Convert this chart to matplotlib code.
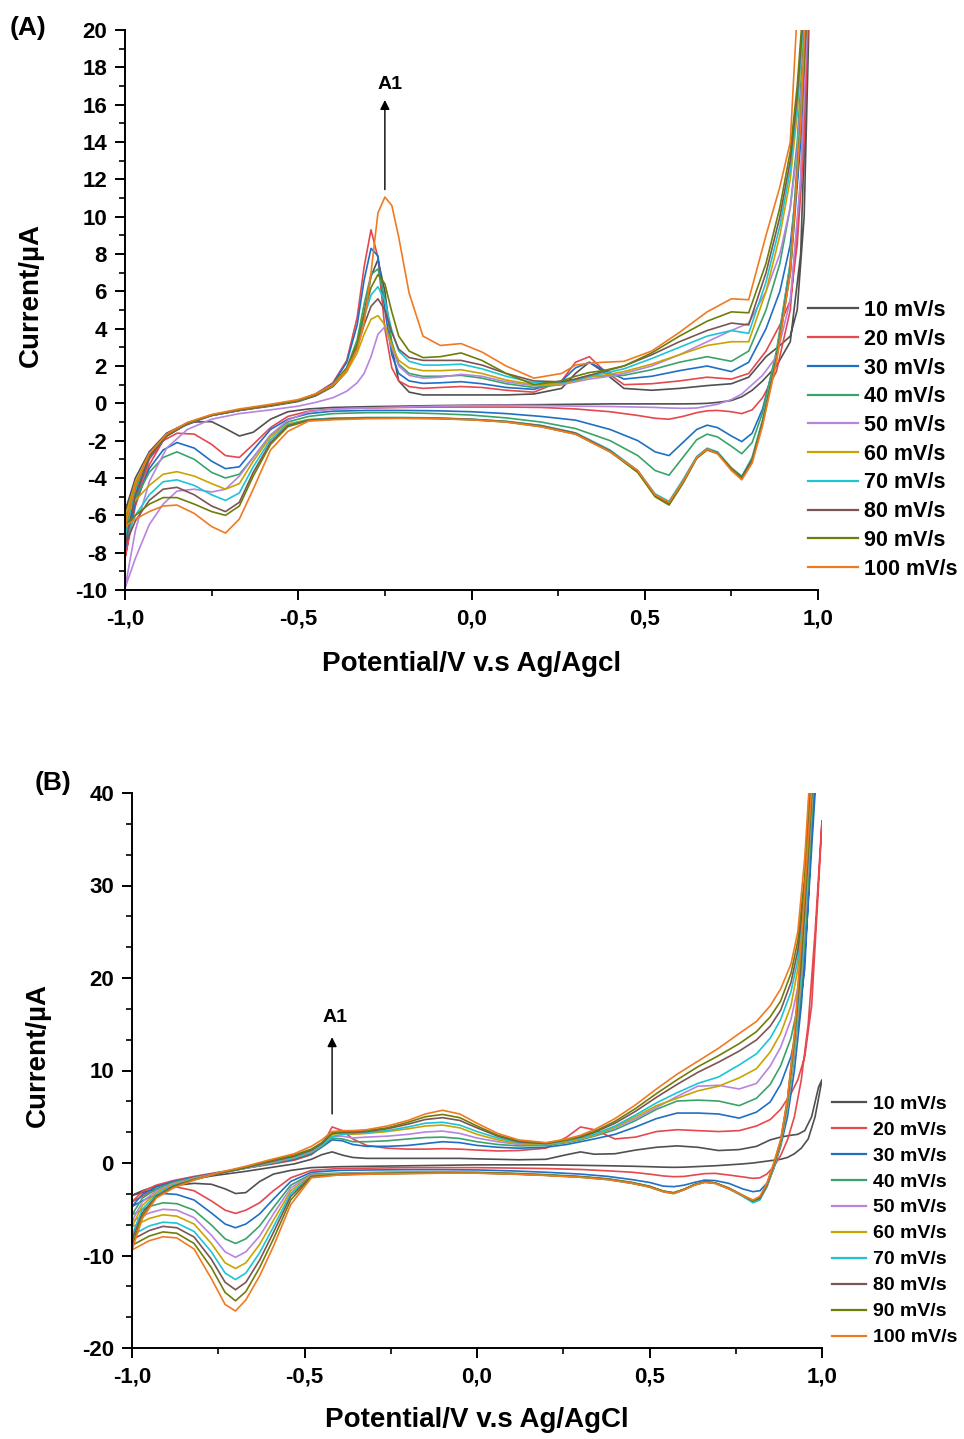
import matplotlib
matplotlib.use("Agg")
import matplotlib.pyplot as plt
from matplotlib.ticker import MultipleLocator, AutoMinorLocator, FuncFormatter

plt.rcParams['font.family'] = ['Liberation Sans', 'DejaVu Sans']
plt.rcParams['font.weight'] = 'bold'
plt.rcParams['axes.unicode_minus'] = False

# ---------------- data ----------------
SCAN_RATES = ['10 mV/s', '20 mV/s', '30 mV/s', '40 mV/s', '50 mV/s',
              '60 mV/s', '70 mV/s', '80 mV/s', '90 mV/s', '100 mV/s']
COLORS = ['#505050', '#E5484D', '#1F6FC5', '#3AA36A', '#B784E0',
          '#C9A400', '#1CC4D6', '#7D5454', '#6E7D0A', '#F07A22']

# Panel A: potential grids (forward / reverse sweep)
A_V_FWD = [-1.0, -0.97, -0.93, -0.88, -0.82, -0.75, -0.67, -0.58, -0.5, -0.45, -0.4, -0.36,
           -0.33, -0.31, -0.29, -0.27, -0.25, -0.23, -0.21, -0.18, -0.14, -0.09, -0.03, 0.03,
           0.1, 0.18, 0.26, 0.3, 0.34, 0.38, 0.44, 0.52, 0.6, 0.68, 0.75, 0.8, 0.85, 0.89,
           0.92, 0.94, 0.96, 0.98]
A_V_REV = [0.98, 0.95, 0.92, 0.88, 0.84, 0.81, 0.78, 0.75, 0.71, 0.68, 0.65, 0.61, 0.57,
           0.53, 0.48, 0.4, 0.3, 0.2, 0.1, 0.0, -0.1, -0.2, -0.3, -0.4, -0.47, -0.53, -0.58,
           -0.63, -0.67, -0.71, -0.75, -0.8, -0.85, -0.89, -0.93, -0.97, -1.0]

A10_F = [-5.8, -4.0, -2.6, -1.6, -1.05, -0.65, -0.38, -0.15, 0.1, 0.4, 0.9, 1.7, 3.0, 4.8, 6.8, 7.7,
         6.0, 3.0, 1.2, 0.6, 0.45, 0.45, 0.45, 0.45, 0.45, 0.5, 0.8, 1.6, 2.2, 1.7, 0.8, 0.7, 0.8,
         0.95, 1.05, 1.4, 2.5, 3.1, 3.6, 5.0, 10.0, 25.0]
A20_F = [-8.3, -5.2, -3.0, -1.75, -1.1, -0.65, -0.38, -0.12, 0.15, 0.5, 1.1, 2.3, 4.6, 7.3, 9.3, 7.8,
         4.0, 1.9, 1.2, 0.9, 0.8, 0.85, 0.9, 0.85, 0.7, 0.6, 1.2, 2.2, 2.5, 1.8, 1.0, 1.05, 1.2,
         1.4, 1.3, 1.6, 2.8, 4.2, 5.5, 8.5, 14.0, 25.0]
A30_F = [-7.8, -5.0, -2.9, -1.75, -1.1, -0.65, -0.37, -0.1, 0.15, 0.5, 1.05, 2.2, 4.2, 6.6, 8.3, 7.9,
         5.0, 2.6, 1.6, 1.2, 1.07, 1.1, 1.16, 1.05, 0.85, 0.75, 1.2, 1.9, 2.2, 1.8, 1.3, 1.45, 1.75,
         2.0, 1.7, 2.2, 4.0, 6.0, 8.5, 12.0, 18.0, 25.0]
A40_F = [-6.9, -4.6, -2.8, -1.7, -1.08, -0.64, -0.36, -0.1, 0.15, 0.48, 1.0, 1.9, 3.4, 5.3, 6.9, 7.2,
         5.6, 3.3, 2.1, 1.6, 1.45, 1.45, 1.5, 1.35, 1.05, 0.85, 1.0, 1.3, 1.5, 1.45, 1.5, 1.8, 2.2,
         2.5, 2.25, 2.8, 5.0, 7.5, 10.5, 14.0, 20.0, 25.0]
A50_F = [-9.9, -6.8, -4.2, -2.4, -1.4, -0.85, -0.55, -0.35, -0.15, 0.05, 0.3, 0.65, 1.1, 1.6, 2.5,
         3.7, 4.1, 3.0, 2.0, 1.5, 1.35, 1.4, 1.55, 1.45, 1.15, 0.95, 1.0, 1.15, 1.3, 1.4, 1.6, 2.0,
         2.6, 3.3, 3.9, 4.3, 6.0, 8.0, 10.5, 13.5, 19.0, 25.0]
A60_F = [-6.1, -4.2, -2.7, -1.7, -1.05, -0.62, -0.35, -0.1, 0.15, 0.45, 0.95, 1.7, 2.7, 3.7, 4.5,
         4.7, 4.2, 3.1, 2.3, 1.9, 1.75, 1.75, 1.8, 1.6, 1.25, 1.0, 1.05, 1.2, 1.4, 1.5, 1.7, 2.1,
         2.6, 3.1, 3.3, 3.3, 6.0, 9.0, 12.0, 15.5, 21.0, 25.0]
A70_F = [-7.3, -4.8, -2.85, -1.75, -1.08, -0.64, -0.36, -0.1, 0.15, 0.47, 1.0, 1.9, 3.2, 4.6, 5.8,
         6.25, 5.5, 3.9, 2.8, 2.25, 2.05, 2.05, 2.1, 1.85, 1.45, 1.1, 1.1, 1.25, 1.45, 1.6, 1.85,
         2.4, 3.0, 3.6, 3.9, 3.75, 6.5, 9.5, 12.5, 16.0, 21.0, 25.0]
A80_F = [-7.6, -4.9, -2.85, -1.75, -1.08, -0.64, -0.36, -0.1, 0.15, 0.47, 1.0, 1.85, 3.0, 4.2, 5.2,
         5.6, 5.0, 3.8, 2.9, 2.45, 2.3, 2.3, 2.3, 2.05, 1.6, 1.2, 1.15, 1.3, 1.5, 1.7, 2.0, 2.6,
         3.3, 3.9, 4.3, 4.2, 7.0, 10.0, 13.0, 16.5, 21.5, 25.0]
A90_F = [-6.5, -4.4, -2.75, -1.7, -1.06, -0.62, -0.34, -0.1, 0.15, 0.47, 1.0, 1.9, 3.2, 4.8, 6.2,
         6.9, 6.4, 4.9, 3.6, 2.8, 2.45, 2.5, 2.7, 2.3, 1.6, 1.0, 1.2, 1.45, 1.65, 1.75, 2.0, 2.7,
         3.6, 4.4, 4.9, 4.85, 7.5, 10.5, 13.5, 17.0, 22.0, 25.0]
A100_F = [-6.6, -4.4, -2.7, -1.65, -1.02, -0.6, -0.3, -0.05, 0.2, 0.5, 1.0, 1.8, 2.9, 4.3, 7.0,
          10.2, 11.05, 10.6, 8.9, 5.9, 3.6, 3.1, 3.2, 2.75, 2.0, 1.35, 1.6, 2.05, 2.15, 2.2, 2.25,
          2.8, 3.8, 4.9, 5.6, 5.55, 9.0, 11.6, 14.0, 21.0, 26.0, 28.0]

A10_R = [25.0, 8.0, 3.3, 2.0, 1.2, 0.7, 0.35, 0.15, 0.05, 0.0, -0.02, -0.03, -0.03, -0.03, -0.03,
         -0.03, -0.05, -0.07, -0.08, -0.1, -0.12, -0.15, -0.18, -0.22, -0.3, -0.45, -0.85, -1.55,
         -1.75, -1.35, -0.98, -1.0, -1.35, -1.9, -2.9, -4.3, -5.8]
A20_R = [25.0, 12.0, 5.0, 1.7, 0.3, -0.35, -0.55, -0.45, -0.38, -0.4, -0.5, -0.7, -0.85, -0.8, -0.65,
         -0.45, -0.3, -0.22, -0.2, -0.2, -0.2, -0.22, -0.25, -0.3, -0.42, -0.7, -1.3, -2.2, -2.9,
         -2.8, -2.2, -1.65, -1.6, -2.0, -3.3, -5.5, -8.3]
A30_R = [25.0, 14.0, 7.0, 2.6, -0.3, -1.6, -2.05, -1.75, -1.3, -1.17, -1.4, -2.1, -2.8, -2.6, -2.0,
         -1.4, -0.9, -0.7, -0.55, -0.45, -0.4, -0.38, -0.38, -0.42, -0.55, -0.85, -1.4, -2.5, -3.4,
         -3.5, -3.1, -2.4, -2.1, -2.5, -3.5, -5.3, -7.8]
A40_R = [25.0, 15.0, 7.5, 2.8, -0.5, -2.1, -2.7, -2.3, -1.8, -1.65, -1.95, -2.9, -3.85, -3.6, -2.8,
         -2.0, -1.35, -1.0, -0.78, -0.63, -0.55, -0.5, -0.5, -0.55, -0.7, -1.0, -1.7, -2.9, -3.8,
         -4.0, -3.7, -3.0, -2.6, -2.9, -3.7, -5.1, -6.9]
A50_R = [25.0, 12.0, 5.5, 2.5, 1.5, 1.0, 0.5, 0.2, -0.05, -0.15, -0.25, -0.27, -0.25, -0.22, -0.2,
         -0.17, -0.15, -0.12, -0.1, -0.12, -0.15, -0.2, -0.25, -0.3, -0.45, -0.9, -1.7, -2.9, -3.9,
         -4.6, -4.75, -4.6, -4.7, -5.4, -6.5, -8.3, -9.9]
A60_R = [25.0, 15.5, 7.5, 2.5, -0.9, -2.9, -4.0, -3.5, -2.65, -2.45, -2.9, -4.2, -5.4, -5.0, -3.7,
         -2.55, -1.6, -1.2, -0.97, -0.86, -0.79, -0.77, -0.77, -0.8, -0.87, -1.1, -1.8, -3.1, -4.3,
         -4.6, -4.3, -3.9, -3.66, -3.8, -4.4, -5.2, -6.1]
A70_R = [25.0, 15.5, 7.5, 2.5, -0.9, -2.9, -3.9, -3.45, -2.6, -2.4, -2.85, -4.1, -5.25, -4.85, -3.6,
         -2.5, -1.58, -1.18, -0.96, -0.85, -0.78, -0.76, -0.76, -0.8, -0.88, -1.15, -1.95, -3.4,
         -4.8, -5.2, -4.9, -4.4, -4.1, -4.2, -4.9, -6.0, -7.3]
A80_R = [25.0, 15.0, 7.2, 2.4, -1.0, -3.0, -3.95, -3.5, -2.65, -2.45, -2.9, -4.2, -5.35, -4.95, -3.65,
         -2.55, -1.6, -1.2, -0.98, -0.86, -0.8, -0.78, -0.78, -0.83, -0.9, -1.2, -2.1, -3.7, -5.3,
         -5.8, -5.5, -4.9, -4.5, -4.6, -5.2, -6.3, -7.6]
A90_R = [25.0, 15.0, 7.0, 2.3, -1.1, -3.1, -4.0, -3.5, -2.7, -2.5, -2.95, -4.3, -5.45, -5.0, -3.7,
         -2.6, -1.65, -1.25, -1.0, -0.88, -0.82, -0.8, -0.8, -0.85, -0.92, -1.25, -2.2, -3.9, -5.5,
         -6.0, -5.8, -5.4, -5.05, -5.05, -5.4, -6.0, -6.5]
A100_R = [28.0, 15.0, 7.0, 2.2, -1.2, -3.2, -4.1, -3.6, -2.7, -2.45, -2.9, -4.2, -5.3, -4.9, -3.6,
          -2.6, -1.65, -1.25, -1.0, -0.88, -0.82, -0.8, -0.82, -0.88, -0.95, -1.5, -2.5, -4.6,
          -6.2, -6.95, -6.6, -5.9, -5.45, -5.5, -5.8, -6.2, -6.6]

# Panel B: potential grids (forward / reverse sweep)
B_V_FWD = [-1.0, -0.97, -0.93, -0.88, -0.82, -0.75, -0.67, -0.6, -0.53, -0.48, -0.45, -0.42, -0.39,
           -0.36, -0.32, -0.26, -0.2, -0.15, -0.1, -0.05, 0.0, 0.06, 0.12, 0.2, 0.26, 0.3, 0.34,
           0.4, 0.46, 0.52, 0.58, 0.64, 0.7, 0.76, 0.81, 0.85, 0.88, 0.91, 0.93, 0.95, 0.97, 0.99, 1.0]
B_V_REV = [1.0, 0.98, 0.96, 0.94, 0.92, 0.9, 0.88, 0.86, 0.84, 0.82, 0.8, 0.77, 0.73, 0.69, 0.66,
           0.63, 0.6, 0.57, 0.54, 0.5, 0.45, 0.38, 0.3, 0.2, 0.1, 0.0, -0.1, -0.2, -0.3, -0.4, -0.48,
           -0.54, -0.59, -0.63, -0.67, -0.7, -0.73, -0.77, -0.82, -0.87, -0.91, -0.95, -1.0]

B10_F = [-3.5, -3.0, -2.5, -2.1, -1.7, -1.3, -0.9, -0.5, -0.1, 0.4, 0.9, 1.2, 0.85, 0.6, 0.5, 0.5,
         0.5, 0.5, 0.5, 0.5, 0.45, 0.4, 0.35, 0.4, 0.9, 1.2, 0.95, 1.0, 1.4, 1.7, 1.85, 1.7, 1.35,
         1.45, 1.8, 2.5, 2.8, 3.0, 3.1, 3.5, 5.0, 8.2, 9.0]
B20_F = [-4.2, -3.1, -2.4, -1.9, -1.45, -1.0, -0.55, -0.15, 0.3, 0.9, 1.8, 3.9, 3.5, 2.6, 1.9, 1.6,
         1.5, 1.5, 1.55, 1.5, 1.4, 1.3, 1.35, 1.6, 2.8, 3.9, 3.6, 2.6, 2.8, 3.4, 3.6, 3.5, 3.4, 3.5,
         4.0, 4.7, 5.8, 7.5, 9.0, 11.5, 17.0, 30.0, 37.0]
B30_F = [-4.7, -3.4, -2.6, -2.0, -1.55, -1.05, -0.55, -0.1, 0.4, 1.0, 1.7, 2.5, 2.4, 2.0, 1.8, 1.8,
         1.9, 2.1, 2.3, 2.2, 1.9, 1.7, 1.6, 1.7, 2.0, 2.3, 2.6, 3.1, 3.9, 4.8, 5.4, 5.4, 5.3, 4.85,
         5.5, 6.6, 8.5, 11.5, 15.0, 21.0, 36.0, 46.0, 50.0]
B40_F = [-5.6, -3.8, -2.8, -2.1, -1.6, -1.1, -0.55, -0.05, 0.5, 1.1, 1.8, 2.7, 2.6, 2.3, 2.3, 2.4,
         2.6, 2.75, 2.8, 2.65, 2.3, 2.0, 1.85, 1.9, 2.2, 2.5, 2.9, 3.6, 4.6, 5.8, 6.7, 6.8, 6.7, 6.2,
         7.0, 8.5, 10.5, 13.5, 17.0, 24.0, 38.0, 50.0, 55.0]
B50_F = [-6.3, -4.2, -3.0, -2.2, -1.65, -1.1, -0.55, 0.0, 0.55, 1.2, 1.9, 2.9, 2.9, 2.7, 2.8, 2.9,
         3.1, 3.35, 3.45, 3.2, 2.7, 2.3, 2.0, 2.0, 2.3, 2.6, 3.0, 3.8, 4.8, 6.0, 7.2, 8.3, 8.4, 8.0,
         8.6, 10.5, 12.5, 15.5, 19.0, 26.0, 40.0, 52.0, 56.0]
B60_F = [-6.9, -4.6, -3.2, -2.3, -1.7, -1.12, -0.55, 0.05, 0.6, 1.25, 2.0, 3.1, 3.2, 3.1, 3.2, 3.4,
         3.7, 4.0, 4.1, 3.8, 3.1, 2.5, 2.1, 2.0, 2.3, 2.6, 3.0, 3.9, 5.0, 6.2, 7.0, 7.8, 8.3, 9.2,
         10.2, 12.0, 14.0, 17.0, 21.0, 28.0, 42.0, 52.0, 56.0]
B70_F = [-7.8, -5.0, -3.4, -2.4, -1.75, -1.15, -0.55, 0.1, 0.65, 1.3, 2.0, 2.84, 3.1, 3.2, 3.3, 3.5,
         3.9, 4.3, 4.4, 4.1, 3.4, 2.7, 2.2, 2.05, 2.4, 2.7, 3.1, 4.0, 5.2, 6.5, 7.6, 8.6, 9.3, 10.6,
         11.8, 13.5, 15.5, 18.5, 22.0, 29.0, 43.0, 53.0, 57.0]
B80_F = [-8.3, -5.4, -3.6, -2.5, -1.8, -1.15, -0.5, 0.15, 0.75, 1.4, 2.1, 3.2, 3.3, 3.3, 3.4, 3.7,
         4.2, 4.7, 4.9, 4.6, 3.8, 2.9, 2.3, 2.1, 2.5, 2.8, 3.3, 4.3, 5.6, 7.1, 8.5, 9.8, 10.9, 12.1,
         13.3, 14.8, 16.5, 19.5, 23.0, 30.0, 44.0, 54.0, 58.0]
B90_F = [-8.9, -5.7, -3.7, -2.6, -1.82, -1.1, -0.45, 0.25, 0.85, 1.5, 2.2, 3.3, 3.4, 3.4, 3.5, 3.8,
         4.4, 5.0, 5.25, 4.9, 4.0, 3.0, 2.4, 2.15, 2.5, 2.9, 3.4, 4.5, 5.9, 7.5, 9.0, 10.4, 11.6,
         12.9, 14.2, 15.8, 17.5, 20.5, 24.0, 31.0, 45.0, 55.0, 59.0]
B100_F = [-9.4, -6.0, -3.8, -2.7, -1.85, -1.05, -0.35, 0.35, 1.0, 1.8, 2.5, 3.4, 3.5, 3.5, 3.6, 4.0,
          4.6, 5.3, 5.7, 5.3, 4.3, 3.2, 2.5, 2.2, 2.6, 3.0, 3.6, 4.8, 6.3, 8.0, 9.6, 11.0, 12.4,
          14.0, 15.3, 17.0, 18.8, 21.5, 25.0, 33.0, 45.0, 56.0, 60.0]

B10_R = [9.0, 5.0, 2.6, 1.6, 1.0, 0.6, 0.4, 0.3, 0.2, 0.1, 0.0, -0.1, -0.2, -0.3, -0.35, -0.4, -0.45,
         -0.47, -0.45, -0.4, -0.35, -0.3, -0.25, -0.2, -0.2, -0.2, -0.25, -0.3, -0.35, -0.4, -0.5,
         -0.8, -1.2, -2.0, -3.2, -3.3, -2.8, -2.3, -2.2, -2.4, -2.7, -3.0, -3.5]
B20_R = [37.0, 25.0, 15.0, 9.0, 5.0, 2.5, 0.8, -0.4, -1.2, -1.6, -1.66, -1.5, -1.3, -1.12, -1.15,
         -1.3, -1.45, -1.48, -1.4, -1.2, -1.0, -0.85, -0.7, -0.6, -0.55, -0.5, -0.5, -0.5, -0.55,
         -0.6, -0.8, -1.6, -3.0, -4.3, -5.1, -5.45, -5.1, -4.1, -3.0, -2.6, -2.7, -3.2, -4.2]
B30_R = [50.0, 40.0, 28.0, 17.0, 10.0, 5.0, 1.8, -0.6, -2.2, -3.0, -3.1, -2.8, -2.2, -1.9, -1.85,
         -2.1, -2.4, -2.56, -2.5, -2.1, -1.8, -1.45, -1.2, -1.0, -0.85, -0.75, -0.72, -0.72, -0.75,
         -0.8, -1.0, -2.0, -3.9, -5.5, -6.6, -7.0, -6.6, -5.4, -4.0, -3.4, -3.3, -3.7, -4.7]
B40_R = [55.0, 44.0, 31.0, 19.0, 11.5, 5.8, 2.0, -0.6, -2.6, -3.8, -4.1, -3.5, -2.7, -2.15, -2.05,
         -2.35, -2.85, -3.2, -3.05, -2.5, -2.1, -1.7, -1.45, -1.25, -1.1, -1.0, -0.97, -0.98, -1.02,
         -1.1, -1.2, -2.4, -4.8, -6.8, -8.2, -8.7, -8.2, -6.7, -5.1, -4.4, -4.3, -4.7, -5.6]
B50_R = [56.0, 45.0, 32.0, 20.0, 12.0, 6.0, 2.1, -0.5, -2.6, -3.9, -4.2, -3.55, -2.75, -2.15, -2.05,
         -2.35, -2.85, -3.25, -3.05, -2.55, -2.15, -1.75, -1.5, -1.3, -1.15, -1.05, -1.02, -1.03,
         -1.07, -1.15, -1.3, -2.7, -5.5, -7.9, -9.6, -10.2, -9.6, -7.8, -5.9, -5.1, -5.0, -5.4, -6.3]
B60_R = [56.0, 45.0, 32.5, 20.5, 12.5, 6.3, 2.2, -0.4, -2.5, -3.9, -4.2, -3.55, -2.75, -2.15, -2.05,
         -2.35, -2.9, -3.3, -3.1, -2.6, -2.2, -1.78, -1.52, -1.32, -1.17, -1.07, -1.05, -1.07, -1.1,
         -1.2, -1.35, -3.0, -6.2, -8.8, -10.8, -11.4, -10.8, -8.7, -6.6, -5.75, -5.6, -6.0, -6.9]
B70_R = [57.0, 46.0, 33.0, 21.0, 13.0, 6.5, 2.3, -0.3, -2.5, -4.0, -4.3, -3.6, -2.8, -2.2, -2.08,
         -2.38, -2.9, -3.3, -3.1, -2.6, -2.2, -1.8, -1.53, -1.33, -1.18, -1.08, -1.07, -1.1, -1.15,
         -1.25, -1.4, -3.3, -6.9, -9.7, -11.9, -12.6, -11.9, -9.6, -7.4, -6.5, -6.4, -6.8, -7.8]
B80_R = [58.0, 46.0, 33.5, 22.0, 13.5, 6.8, 2.4, -0.2, -2.4, -3.8, -4.1, -3.5, -2.75, -2.15, -2.05,
         -2.35, -2.85, -3.25, -3.05, -2.55, -2.15, -1.75, -1.5, -1.32, -1.17, -1.08, -1.08, -1.12,
         -1.17, -1.27, -1.45, -3.6, -7.5, -10.5, -12.9, -13.7, -12.9, -10.4, -8.0, -7.0, -6.85,
         -7.3, -8.3]
B90_R = [59.0, 46.0, 34.0, 23.0, 13.5, 6.8, 2.3, -0.2, -2.3, -3.7, -4.1, -3.5, -2.75, -2.15, -2.05,
         -2.35, -2.85, -3.25, -3.05, -2.55, -2.15, -1.75, -1.5, -1.3, -1.15, -1.05, -1.05, -1.1,
         -1.15, -1.25, -1.5, -4.0, -8.2, -11.3, -13.9, -14.9, -14.0, -11.3, -8.7, -7.6, -7.45, -7.9,
         -8.9]
B100_R = [60.0, 46.0, 35.0, 24.0, 14.0, 7.0, 2.5, 0.0, -2.2, -3.6, -4.0, -3.5, -2.8, -2.2, -2.1,
          -2.4, -2.9, -3.3, -3.1, -2.6, -2.2, -1.8, -1.55, -1.35, -1.2, -1.1, -1.1, -1.15, -1.2,
          -1.3, -1.6, -4.5, -9.0, -12.2, -14.8, -16.0, -15.3, -12.5, -9.3, -8.1, -7.97, -8.4, -9.4]

A_FWD = [A10_F, A20_F, A30_F, A40_F, A50_F, A60_F, A70_F, A80_F, A90_F, A100_F]
A_REV = [A10_R, A20_R, A30_R, A40_R, A50_R, A60_R, A70_R, A80_R, A90_R, A100_R]
B_FWD = [B10_F, B20_F, B30_F, B40_F, B50_F, B60_F, B70_F, B80_F, B90_F, B100_F]
B_REV = [B10_R, B20_R, B30_R, B40_R, B50_R, B60_R, B70_R, B80_R, B90_R, B100_R]

# ---------------- figure ----------------
W, H = 964, 1439
fig = plt.figure(figsize=(W / 100, H / 100), dpi=100)
axA = fig.add_axes([125 / W, 1 - 590 / H, 693 / W, 560 / H])
axB = fig.add_axes([132 / W, 1 - 1348 / H, 690 / W, 555 / H])

comma = FuncFormatter(lambda v, p: ('%.1f' % (0.0 if abs(v) < 1e-9 else v)).replace('.', ','))

def draw(ax, vf, vr, fwd, rev, lw):
    lines = []
    for yf, yr, c, lab in zip(fwd, rev, COLORS, SCAN_RATES):
        ln, = ax.plot(list(vf) + list(vr), list(yf) + list(yr), color=c, lw=lw, label=lab,
                      solid_joinstyle='round')
        lines.append(ln)
    return lines

linesA = draw(axA, A_V_FWD, A_V_REV, A_FWD, A_REV, 1.2)
linesB = draw(axB, B_V_FWD, B_V_REV, B_FWD, B_REV, 1.2)

for ax in (axA, axB):
    ax.set_xlim(-1.0, 1.0)
    ax.spines['top'].set_visible(False)
    ax.spines['right'].set_visible(False)
    for s in ('left', 'bottom'):
        ax.spines[s].set_linewidth(1.4)
    ax.xaxis.set_major_locator(MultipleLocator(0.5))
    ax.xaxis.set_minor_locator(MultipleLocator(0.25))
    ax.xaxis.set_major_formatter(comma)
    ax.tick_params(which='major', direction='out', length=7, width=1.4, labelsize=16, pad=6)
    ax.tick_params(which='minor', direction='out', length=4, width=1.2)
    for t in ax.get_xticklabels() + ax.get_yticklabels():
        t.set_fontweight('bold')

axA.set_ylim(-10, 20)
axA.yaxis.set_major_locator(MultipleLocator(2))
axA.yaxis.set_minor_locator(MultipleLocator(1))
axB.set_ylim(-20, 40)
axB.yaxis.set_major_locator(MultipleLocator(10))
axB.yaxis.set_minor_locator(AutoMinorLocator(3))

# axis labels
axA.set_xlabel('Potential/V v.s Ag/Agcl', fontsize=20, fontweight='bold')
axA.set_ylabel('Current/\u00b5A', fontsize=20, fontweight='bold')
axB.set_xlabel('Potential/V v.s Ag/AgCl', fontsize=20, fontweight='bold')
axB.set_ylabel('Current/\u00b5A', fontsize=20, fontweight='bold')
axA.xaxis.set_label_coords(0.5, (590 - 651) / 560)
axA.yaxis.set_label_coords((18 - 125) / 693, (590 - 295) / 560)
axB.xaxis.set_label_coords(0.5, (1348 - 1407) / 555)
axB.yaxis.set_label_coords((25 - 132) / 690, (1348 - 1055) / 555)
axA.yaxis.label.set_va('top')
axB.yaxis.label.set_va('top')

# A1 arrows
axA.annotate('', xy=(-0.25, 16.4), xytext=(-0.25, 11.3),
             arrowprops=dict(arrowstyle='-|>', color='black', lw=1.0, mutation_scale=14))
axA.text(-0.235, 17.1, 'A1', fontsize=14, fontweight='bold', ha='center', va='center')
axB.annotate('', xy=(-0.42, 13.9), xytext=(-0.42, 5.0),
             arrowprops=dict(arrowstyle='-|>', color='black', lw=1.0, mutation_scale=14))
axB.text(-0.412, 15.7, 'A1', fontsize=14, fontweight='bold', ha='center', va='center')

# panel letters
fig.text(10 / W, 1 - 28 / H, '(A)', fontsize=19, fontweight='bold', ha='left', va='center')
fig.text(35 / W, 1 - 783 / H, '(B)', fontsize=19, fontweight='bold', ha='left', va='center')

# legends
fig.legend(handles=linesA, loc='upper left', bbox_to_anchor=(808 / W, 1 - 300 / H),
           frameon=False, handlelength=2.3, handletextpad=0.32,
           labelspacing=0.36, borderpad=0, borderaxespad=0,
           prop={'weight': 'bold', 'size': 15.5})
fig.legend(handles=linesB, loc='upper left', bbox_to_anchor=(832 / W, 1 - 1095 / H),
           frameon=False, handlelength=1.75, handletextpad=0.36,
           labelspacing=0.43, borderpad=0, borderaxespad=0,
           prop={'weight': 'bold', 'size': 14})
for lg in fig.legends:
    for l in lg.get_lines():
        l.set_linewidth(1.6)

fig.savefig('out.png', dpi=100)
